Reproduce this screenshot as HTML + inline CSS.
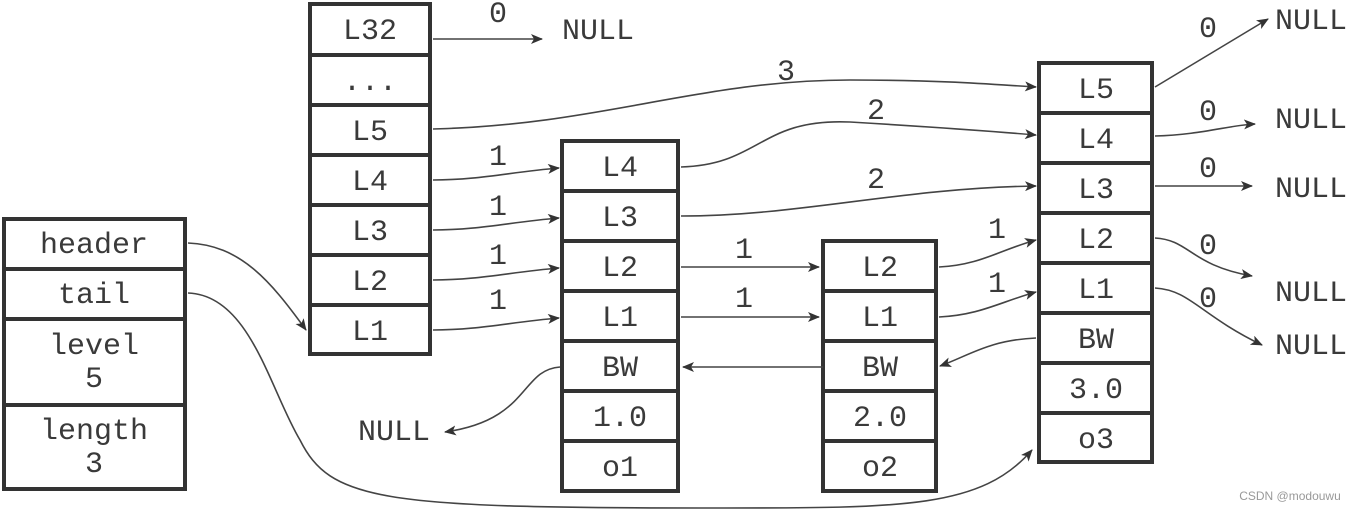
<!DOCTYPE html>
<html><head><meta charset="utf-8"><style>
html,body{margin:0;padding:0;background:#fff;}
svg{display:block;}
text{font-family:"Liberation Mono",monospace;font-size:30px;fill:#3a3a3a;text-anchor:middle;}
.b{fill:#fff;stroke:#333;stroke-width:4;}
.l{fill:none;stroke:#444;stroke-width:1.6;}
</style></head><body>
<svg width="1354" height="509" viewBox="0 0 1354 509" xmlns="http://www.w3.org/2000/svg">
<defs><marker id="a" viewBox="0 0 12 10" refX="11" refY="5" markerWidth="12" markerHeight="10" markerUnits="userSpaceOnUse" orient="auto"><path d="M0,0 L12,5 L0,10 L3,5 Z" fill="#333"/></marker></defs>

<rect class="b" x="4" y="219" width="181" height="270"/>
<line class="b" x1="4" y1="269" x2="185" y2="269"/>
<line class="b" x1="4" y1="319" x2="185" y2="319"/>
<line class="b" x1="4" y1="405" x2="185" y2="405"/>

<rect class="b" x="310" y="4" width="120" height="350"/>
<g class="b"><line x1="310" y1="55" x2="430" y2="55"/><line x1="310" y1="105" x2="430" y2="105"/><line x1="310" y1="155" x2="430" y2="155"/><line x1="310" y1="205" x2="430" y2="205"/><line x1="310" y1="255" x2="430" y2="255"/><line x1="310" y1="305" x2="430" y2="305"/></g>

<rect class="b" x="562" y="141" width="116" height="350"/>
<g class="b"><line x1="562" y1="191" x2="678" y2="191"/><line x1="562" y1="241" x2="678" y2="241"/><line x1="562" y1="291" x2="678" y2="291"/><line x1="562" y1="341" x2="678" y2="341"/><line x1="562" y1="391" x2="678" y2="391"/><line x1="562" y1="441" x2="678" y2="441"/></g>

<rect class="b" x="823" y="241" width="113" height="250"/>
<g class="b"><line x1="823" y1="291" x2="936" y2="291"/><line x1="823" y1="341" x2="936" y2="341"/><line x1="823" y1="391" x2="936" y2="391"/><line x1="823" y1="441" x2="936" y2="441"/></g>

<rect class="b" x="1039" y="63" width="113" height="399"/>
<g class="b"><line x1="1039" y1="113" x2="1152" y2="113"/><line x1="1039" y1="163" x2="1152" y2="163"/><line x1="1039" y1="213" x2="1152" y2="213"/><line x1="1039" y1="263" x2="1152" y2="263"/><line x1="1039" y1="313" x2="1152" y2="313"/><line x1="1039" y1="363" x2="1152" y2="363"/><line x1="1039" y1="413" x2="1152" y2="413"/></g>

<g class="l" marker-end="url(#a)">
<path d="M433,39 L542,39"/>
<path d="M188,243 C240,245 270,280 306,330"/>
<path d="M188,293 C250,295 270,390 300,440 C330,500 380,508 700,508 C900,508 980,510 1032,450"/>
<path d="M433,129 C600,125 700,80 850,80 C950,80 1000,85 1036,87"/>
<path d="M433,180 C480,180 510,172 559,168"/>
<path d="M433,230 C480,230 510,222 559,218"/>
<path d="M433,280 C480,280 510,272 559,268"/>
<path d="M433,330 C480,330 510,322 559,318"/>
<path d="M681,167 C760,165 760,118 850,122 C950,128 1000,132 1036,135"/>
<path d="M681,216 C800,216 900,188 1036,186"/>
<path d="M681,267 L819,267"/>
<path d="M681,317 L819,317"/>
<path d="M939,267 C980,265 1000,250 1036,240"/>
<path d="M939,317 C980,315 1000,302 1036,292"/>
<path d="M1036,338 C990,340 970,355 940,366"/>
<path d="M823,367 L683,367"/>
<path d="M560,367 C520,370 530,420 445,432"/>
<path d="M1155,87 L1268,19"/>
<path d="M1155,136 C1200,135 1230,125 1255,124"/>
<path d="M1155,186 L1252,186"/>
<path d="M1155,238 C1190,240 1190,265 1252,276"/>
<path d="M1155,288 C1190,290 1200,315 1262,345"/>
</g>

<g transform="translate(0,2)">
<text x="94" y="251">header</text><text x="94" y="301">tail</text>
<text x="94" y="352">level</text><text x="94" y="385">5</text>
<text x="94" y="437">length</text><text x="94" y="470">3</text>
<text x="370" y="37">L32</text><text x="370" y="88">...</text><text x="370" y="138">L5</text><text x="370" y="188">L4</text><text x="370" y="238">L3</text><text x="370" y="288">L2</text><text x="370" y="338">L1</text>
<text x="620" y="174">L4</text><text x="620" y="224">L3</text><text x="620" y="274">L2</text><text x="620" y="324">L1</text><text x="620" y="374">BW</text><text x="620" y="424">1.0</text><text x="620" y="474">o1</text>
<text x="880" y="274">L2</text><text x="880" y="324">L1</text><text x="880" y="374">BW</text><text x="880" y="424">2.0</text><text x="880" y="474">o2</text>
<text x="1096" y="96">L5</text><text x="1096" y="146">L4</text><text x="1096" y="196">L3</text><text x="1096" y="246">L2</text><text x="1096" y="296">L1</text><text x="1096" y="346">BW</text><text x="1096" y="396">3.0</text><text x="1096" y="446">o3</text>
<text x="498" y="20">0</text>
<text x="598" y="37">NULL</text>
<text x="786" y="78">3</text>
<text x="876" y="117">2</text>
<text x="876" y="186">2</text>
<text x="498" y="163">1</text><text x="498" y="213">1</text><text x="498" y="262">1</text><text x="498" y="307">1</text>
<text x="744" y="256">1</text><text x="744" y="305">1</text>
<text x="997" y="236">1</text><text x="997" y="290">1</text>
<text x="394" y="438">NULL</text>
<text x="1208" y="35">0</text><text x="1208" y="118">0</text><text x="1208" y="175">0</text><text x="1208" y="252">0</text><text x="1208" y="305">0</text>
<text x="1311" y="27">NULL</text><text x="1311" y="126">NULL</text><text x="1311" y="195">NULL</text><text x="1311" y="299">NULL</text><text x="1311" y="352">NULL</text>
</g>
<text x="1290" y="500" style="font-family:'Liberation Sans',sans-serif;font-size:12px;fill:#999">CSDN @modouwu</text>
</svg>
</body></html>
